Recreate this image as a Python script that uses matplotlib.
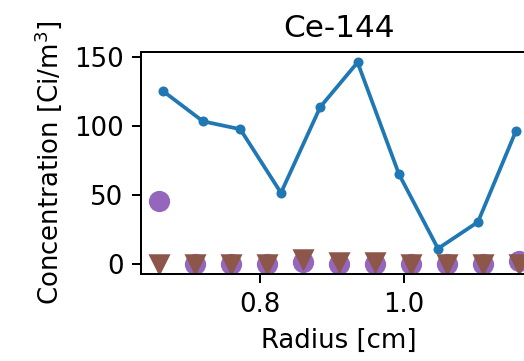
import numpy as np
import matplotlib
matplotlib.use("Agg")
import matplotlib.pyplot as plt

# Ce-144 concentration profile along the radius
radius_fine = [0.6656, 0.7211, 0.7729, 0.8294, 0.884, 0.9358, 0.9933, 1.0475, 1.103, 1.1558]
conc_fine = [125.4, 103.5, 97.8, 51.7, 113.9, 146.2, 65.2, 11.3, 30.6, 96.6]

radius_coarse = [0.66, 0.71, 0.76, 0.81, 0.86, 0.91, 0.96, 1.01, 1.06, 1.11, 1.16]
conc_ref_a = [45.7, 0.0, 0.0, 0.0, 1.4, 0.0, 0.0, 0.0, 0.0, 0.0, 2.5]
conc_ref_b = [0.0, 0.0, 0.0, 0.2, 3.8, 1.9, 1.9, 0.0, 0.0, 0.0, 0.5]

plt.rcParams['font.size'] = 10.4

DPI = 180
fig = plt.figure(figsize=(524 / DPI, 361 / DPI), dpi=DPI)
ax = fig.add_axes([141 / 524, (361 - 274.3) / 361, 396 / 524, 222 / 361])

ax.plot(radius_fine, conc_fine, '.-', color='tab:blue')
ax.plot(radius_coarse, conc_ref_a, 'o', color='tab:purple', ms=7.5)
ax.plot(radius_coarse, conc_ref_b, 'v', color='tab:brown', ms=7.5)

ax.set_title('Ce-144')
ax.set_xlabel('Radius [cm]')
ax.set_ylabel('Concentration [Ci/m$^3$]')

fig.savefig('out.png', dpi=DPI)
